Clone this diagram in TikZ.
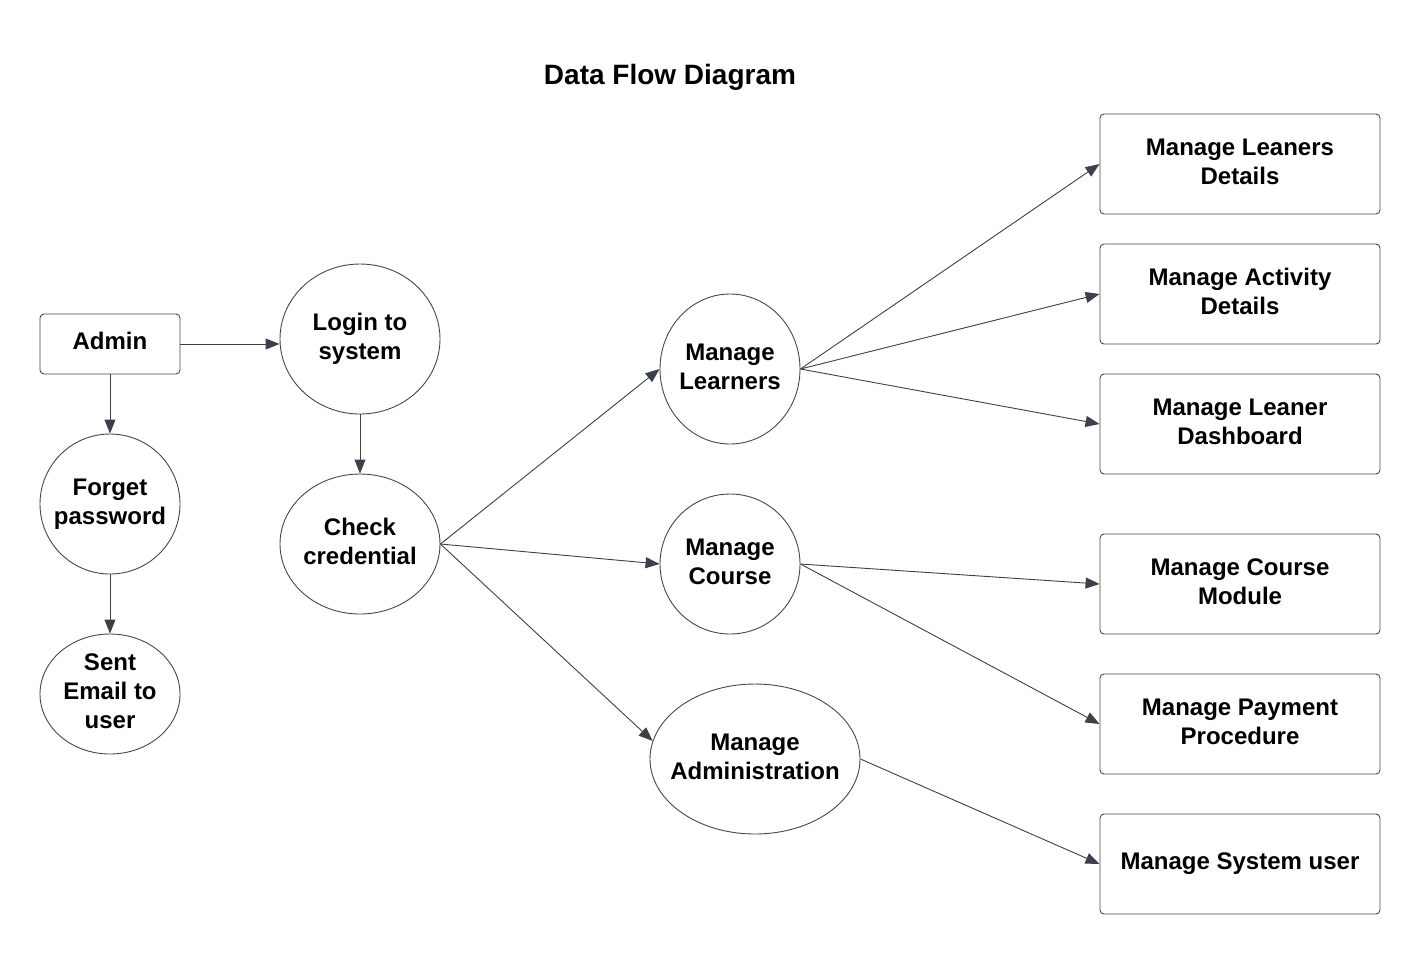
\documentclass[tikz,border=0pt]{standalone}
\usepackage{fontspec}
\setmainfont{Liberation Sans}
\usepackage{tikz}
\usetikzlibrary{arrows.meta,positioning,shapes.geometric}

\begin{document}
\begin{tikzpicture}[x=1pt,y=-1pt,font=\bfseries\fontsize{24}{29}\selectfont,every node/.style={draw=black!72,line width=0.9pt,inner sep=0pt,text depth=5.5pt},every text node part/.style={align=center},box/.style={rectangle,rounded corners=4pt},bubble/.style={ellipse,inner sep=-18pt},flow/.style={draw={rgb,255:red,58;green,65;blue,74},line width=0.9pt,-{Triangle[length=14pt,width=11pt]}}]
	\useasboundingbox (0,0) rectangle (1420,954);

	\node[draw=none] (title) at (670,77) {\fontsize{28}{34}\selectfont Data Flow Diagram};

	\node (adm) at (110,344) [box,minimum width=140,minimum height=60] {Admin};
	\node (fgt) at (110,504) [bubble,minimum width=140,minimum height=140] {Forget\\password};
	\node (snt) at (110,694) [bubble,minimum width=140,minimum height=120] {Sent\\Email to\\user};
	\node (lgn) at (360,339) [bubble,minimum width=160,minimum height=150] {Login to\\system};
	\node (chk) at (360,544) [bubble,minimum width=160,minimum height=140] {Check\\credential};

	\node (lrn) at (730,369) [bubble,minimum width=140,minimum height=150] {Manage\\Learners};
	\node (crs) at (730,564) [bubble,minimum width=140,minimum height=140] {Manage\\Course};
	\node (mad) at (755,759) [bubble,minimum width=210,minimum height=150] {Manage\\Administration};

	\node (ldt) at (1240,164) [box,minimum width=280,minimum height=100] {Manage Leaners\\Details};
	\node (adt) at (1240,294) [box,minimum width=280,minimum height=100] {Manage Activity\\Details};
	\node (dsh) at (1240,424) [box,minimum width=280,minimum height=100] {Manage Leaner\\Dashboard};
	\node (mdl) at (1240,584) [box,minimum width=280,minimum height=100] {Manage Course\\Module};
	\node (pay) at (1240,724) [box,minimum width=280,minimum height=100] {Manage Payment\\Procedure};
	\node (usr) at (1240,864) [box,minimum width=280,minimum height=100] {Manage System user};

	\draw[flow] (adm.east) -- (adm.east -| lgn.west);
	\draw[flow] (adm) -- (fgt);
	\draw[flow] (fgt) -- (snt);
	\draw[flow] (lgn) -- (chk);

	\draw[flow] (chk.east) -- (lrn.west);
	\draw[flow] (chk.east) -- (crs.west);
	\draw[flow] (chk.east) -- (mad.170);

	\draw[flow] (lrn.east) -- (ldt.west);
	\draw[flow] (lrn.east) -- (adt.west);
	\draw[flow] (lrn.east) -- (dsh.west);
	\draw[flow] (crs.east) -- (mdl.west);
	\draw[flow] (crs.east) -- (pay.west);
	\draw[flow] (mad.east) -- (usr.west);
\end{tikzpicture}
\end{document}
